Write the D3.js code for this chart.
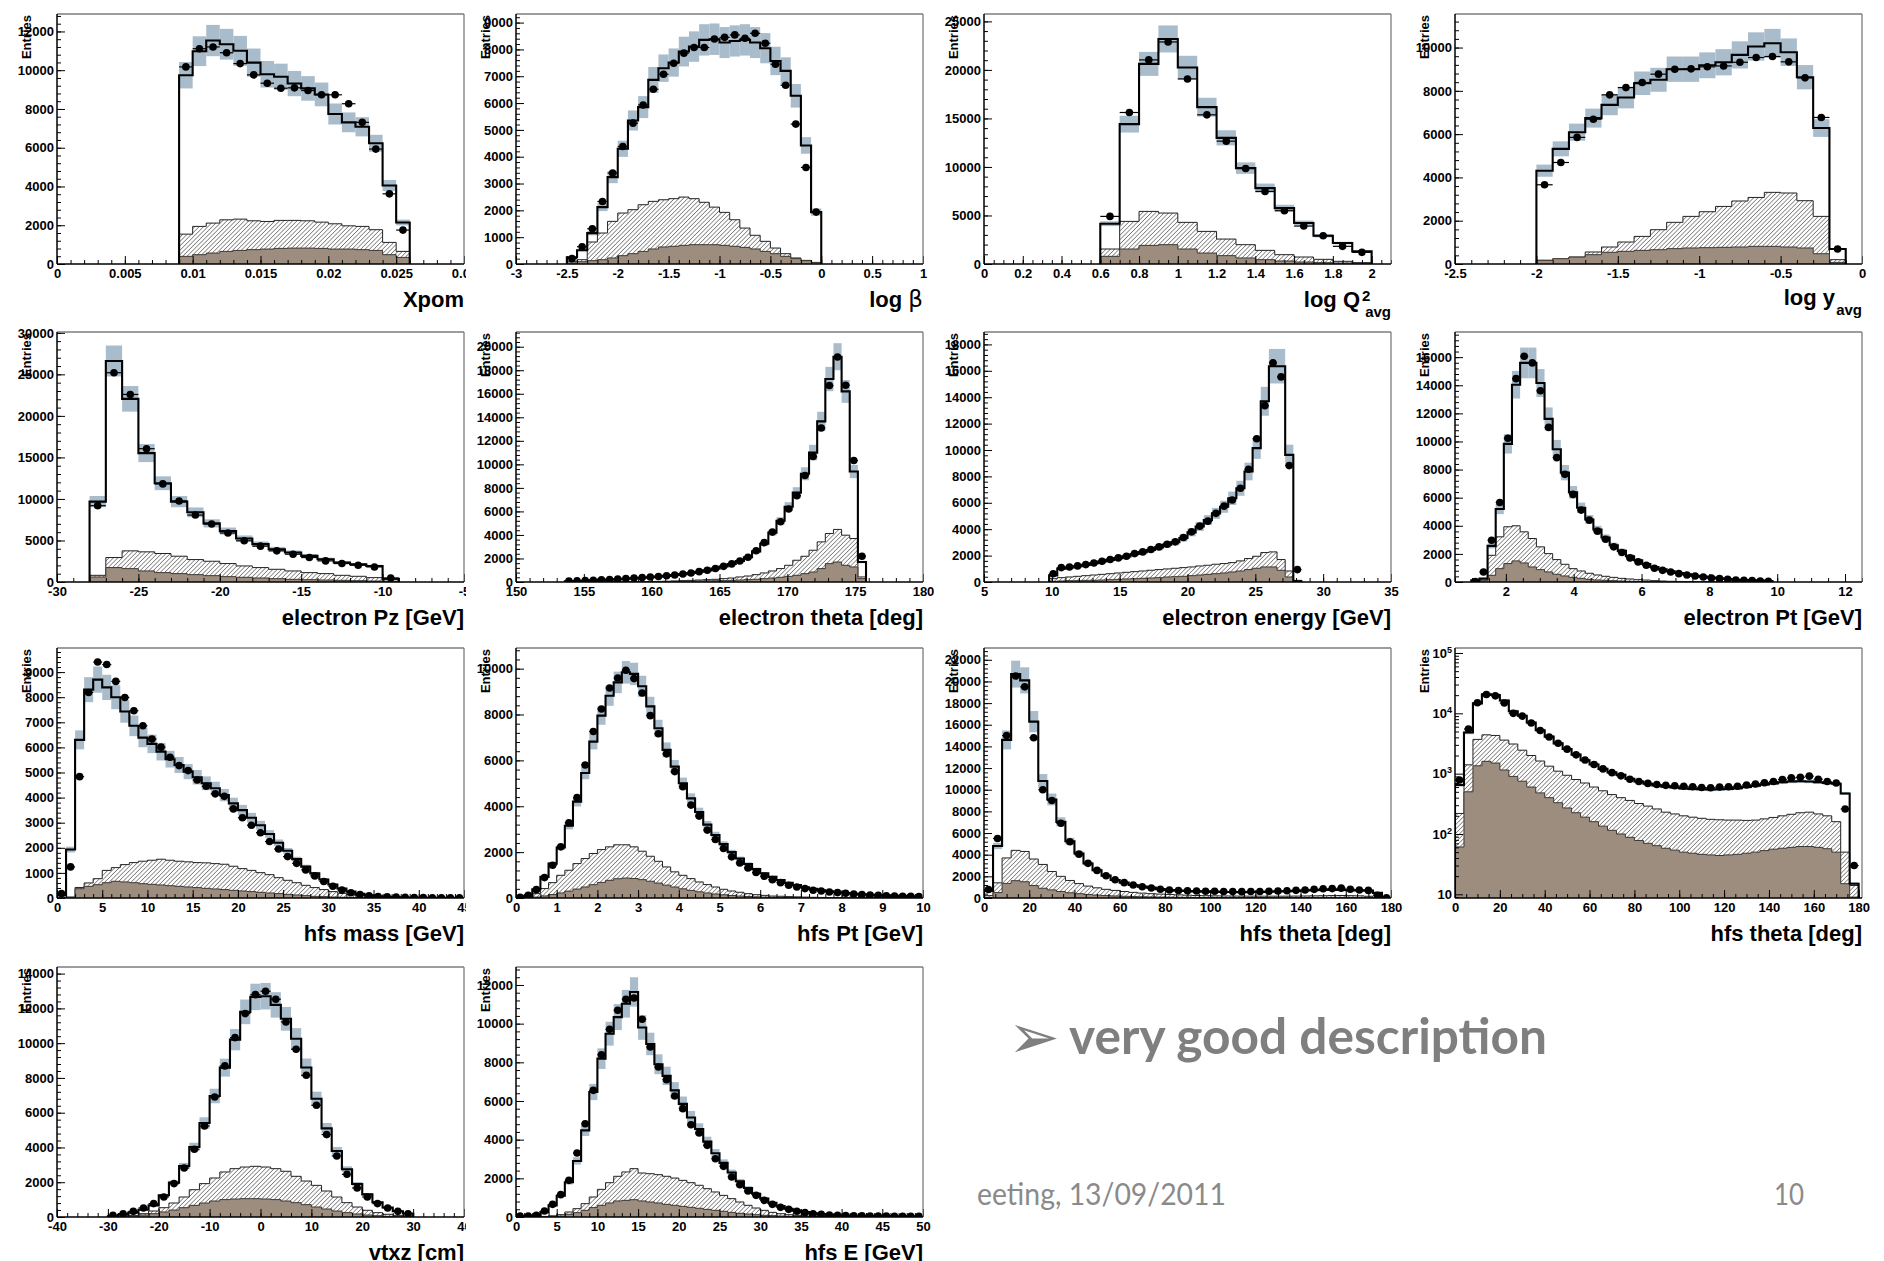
<!DOCTYPE html>
<html><head><meta charset="utf-8">
<script src="https://cdn.jsdelivr.net/npm/d3@7"></script>
<style>html,body{margin:0;padding:0;background:#fff;}svg{display:block;}</style>
</head><body>
<svg id="c" width="1884" height="1261"></svg>
<script>
// ================= DATA =================
// 1. Xpom  (bins 0.009..0.026, width 0.001)
const xpomMC    = [9740,10980,11530,11340,11000,10390,9790,9660,9310,9060,8750,7740,7310,7080,6230,4050,2140];
const xpomData  = [10170,11110,11200,10900,10340,9760,9330,9070,9090,8950,8730,8730,8270,7310,5930,3620,1750];
const xpomHatch = [1540,1940,2110,2280,2315,2230,2195,2250,2250,2230,2160,2075,1970,1940,1770,1115,650];
const xpomBrown = [395,480,565,650,700,740,770,805,820,820,805,770,770,740,700,480,340];
// 2. log beta (bins -2.5..0, width 0.1)
const lbMC    = [250,510,1150,2120,3240,4295,5350,5850,6865,7300,7510,7920,8105,8355,8380,8255,8315,8355,8255,8045,7570,7200,6270,4420,1935];
const lbData  = [200,645,1315,2330,3390,4380,5250,5930,6515,7075,7485,7860,8070,8070,8390,8450,8540,8415,8600,8230,7450,6665,5215,3600,1935];
const lbHatch = [100,160,820,1155,1590,1900,2025,2210,2335,2395,2435,2495,2435,2300,2120,1925,1650,1340,1070,845,595,385,225,135,40];
const lbBrown = [40,85,125,160,225,310,385,470,560,635,660,695,720,720,720,695,660,620,560,470,385,285,200,125,60];
// 3. log Q2 (bins 0.6..2.0, width 0.1)
const lqMC    = [4150,14410,20620,23190,20240,16160,13000,9880,7820,5760,4220,2915,2160,1300];
const lqData  = [4905,15610,21030,22880,19070,15370,12660,9845,7480,5490,3910,2915,1820,1200];
const lqHatch = [1545,4390,5420,5250,4290,3360,2570,1990,1405,960,720,480,275,140];
const lqBrown = [790,1545,1920,1990,1545,1130,860,620,445,310,205,140,100,70];
// 4. log y (bins -2.0..-0.1, width 0.1)
const lyMC    = [4310,5320,6090,6740,7350,7690,8350,8510,9000,9000,9180,9320,9660,10050,10200,9785,8630,6280,690];
const lyData  = [3660,4690,5850,6690,7815,8150,8385,8770,9000,9015,9110,9150,9320,9540,9585,9340,8600,6770,690];
const lyHatch = [170,230,320,555,785,1015,1275,1585,1925,2200,2415,2660,2910,3075,3310,3280,2925,2200,200];
const lyBrown = [170,245,320,430,540,585,630,660,710,740,755,770,785,815,815,785,740,475,75];
// 5. electron Pz (bins -28..-9, width 1)
const epzMC    = [9680,26610,22050,15520,11890,9680,8390,7060,6130,5240,4560,3950,3550,3150,2740,2340,2140,1935,400];
const epzData  = [9190,25200,22580,16050,11810,9760,8060,6975,5900,4960,4315,3750,3345,2945,2540,2220,2015,1815,480];
const epzHatch = [805,2945,3750,3630,3430,3105,2700,2500,2220,1935,1735,1530,1330,1130,1010,805,685,525,280];
const epzBrown = [605,1735,1610,1330,1130,1010,885,765,645,565,485,400,320,280,240,200,160,120,80];
// 6. electron theta (bins 153.6..175.8, width 0.6)
const ethMC    = [60,85,110,140,170,205,240,280,320,365,410,460,520,590,670,760,870,990,1140,1320,1530,1780,2100,2600,3250,4200,5200,6400,7600,9200,11000,13650,17250,19150,16200,9390,1700];
const ethData  = [75,95,120,150,180,215,250,290,330,375,420,470,530,600,680,770,880,1000,1150,1330,1540,1780,2100,2650,3350,4240,5120,6200,7340,9050,10670,13090,16700,19120,16730,10330,2190];
const ethHatch = [5,8,10,12,15,18,22,26,30,36,42,50,60,85,115,140,170,200,230,285,340,430,510,625,770,940,1140,1420,1850,2190,2700,3410,4125,4470,3980,3700,430];
const ethBrown = [6,8,10,12,15,18,20,25,30,35,40,45,50,60,70,80,90,100,110,115,140,170,200,230,285,340,400,480,570,710,850,1140,1560,1700,1420,1280,285];
// 7. electron energy (bins 9.8..28.4, width 0.6)
const eeMC    = [500,1010,1100,1190,1300,1420,1550,1680,1810,1940,2120,2260,2430,2620,2830,3020,3330,3760,4200,4690,5200,5700,6340,7100,8370,10140,13690,16350,16350,9630,60];
const eeData  = [630,1090,1140,1220,1320,1445,1570,1700,1825,1950,2150,2280,2460,2660,2865,3040,3370,3800,4230,4610,5200,5750,6210,7100,8540,10850,13360,16600,15540,8820,940];
const eeHatch = [250,330,380,430,480,530,580,630,685,735,785,835,890,940,990,1040,1090,1140,1215,1270,1345,1395,1470,1600,1775,1950,2230,2280,1700,835,125];
const eeBrown = [50,75,100,100,125,125,150,175,200,230,250,280,305,330,380,405,430,480,530,580,630,685,760,835,940,1040,1140,1140,890,380,50];
// 8. electron Pt (bins 0.98..9.86, width 0.24)
const eptMC    = [120,240,2570,5190,9830,14040,15590,15590,14160,11610,9450,7780,6380,5280,4450,3740,3165,2620,2215,1830,1545,1285,1070,905,760,640,550,450,380,310,260,215,165,140,120,95,70];
const eptData  = [30,710,2975,5660,10230,14470,16060,15590,13610,11000,8850,7660,6235,5115,4400,3620,3045,2500,2095,1715,1430,1190,975,830,710,595,500,430,360,285,240,190,145,120,95,70,50];
const eptHatch = [0,240,1900,3215,3930,4000,3570,3095,2500,2020,1595,1260,950,785,620,500,405,330,260,215,165,140,95,70,50,40,30,25,20,15,12,10,8,6,5,4,3];
const eptBrown = [0,95,475,950,1310,1500,1355,1070,880,715,550,430,330,260,190,145,120,95,70,50,40,30,25,20,15,12,10,8,6,5,4,3,3,2,2,1,1];
// 9. hfs mass (bins 0..45, width 1)
const hmMC    = [100,1930,6300,8300,8700,8390,8000,7430,6860,6390,6140,5830,5530,5300,5035,4810,4570,4370,4100,3770,3500,3200,2900,2550,2200,1880,1550,1250,980,740,540,380,260,170,110,70,45,30,20,15,10,8,5,4,3];
const hmData  = [175,1240,4835,8190,9400,9300,8630,7990,7460,6860,6330,6010,5610,5275,5075,4700,4450,4150,4050,3550,3200,2900,2600,2250,1950,1650,1380,1120,880,660,470,320,210,140,90,60,45,35,25,20,15,12,10,8,6];
const hmHatch = [0,40,420,600,770,1100,1210,1330,1410,1465,1505,1545,1505,1465,1440,1410,1400,1370,1345,1265,1170,1100,1010,930,810,705,610,505,415,335,255,185,135,95,65,40,25,15,10,5,5,3,2,1,1];
const hmBrown = [0,15,370,465,530,610,665,640,610,570,545,520,490,465,440,415,385,360,335,305,280,255,225,200,175,145,120,95,65,55,40,30,20,15,10,8,5,3,2,1,1,1,0,0,0];
// 10. hfs Pt (bins 0..10, width 0.2)
const hptMC    = [20,100,380,920,1500,2200,3150,4200,5450,6820,7950,8820,9400,9840,9770,9230,8355,7400,6460,5730,5000,4345,3750,3200,2750,2350,2000,1720,1480,1260,1080,920,780,660,560,470,400,340,290,250,215,185,160,140,120,105,90,80,70,60];
const hptData  = [30,115,365,890,1430,2230,3280,4375,5800,7260,8240,9155,9590,9930,9565,8940,7950,7160,6285,5510,4855,4050,3570,2960,2550,2160,1795,1530,1310,1110,950,800,670,555,480,410,335,305,260,235,205,175,145,130,115,100,90,75,70,60];
const hptHatch = [0,40,190,410,670,990,1210,1500,1720,1940,2110,2230,2320,2320,2230,2040,1820,1600,1355,1140,990,845,700,585,480,380,305,250,190,145,115,85,75,60,50,40,30,25,20,15,12,10,8,6,5,4,3,2,2,1];
const hptBrown = [0,10,40,90,150,220,300,390,480,580,680,770,840,870,850,800,730,650,560,480,400,330,270,220,175,140,110,85,65,50,40,30,25,20,15,12,10,8,6,5,4,3,3,2,2,2,1,1,1,1];
// 11/12. hfs theta (bins 0..180, width 4) - shown linear and log
const htMC    = [650,4800,14600,20680,20100,16290,10800,9100,7035,5245,4105,3180,2560,2070,1665,1420,1200,1050,955,820,740,680,640,610,590,570,560,550,545,550,560,575,600,630,660,690,720,740,750,740,720,700,680,470,15];
const htData  = [785,5500,15000,20500,19500,14800,10000,9000,6900,5200,4050,3200,2550,2050,1680,1420,1200,1040,920,810,740,690,660,640,630,620,605,590,585,600,605,620,650,675,705,740,800,850,870,910,810,740,700,260,30];
const htHatch = [219,1400,3700,4400,4300,3600,3100,2450,2000,1620,1330,1100,940,800,700,600,520,450,400,360,320,290,260,230,215,200,190,182,175,172,170,170,168,170,178,188,200,212,225,230,215,200,160,50,14];
const htBrown = [61,500,1350,1600,1500,1150,900,750,600,480,400,330,270,225,190,160,135,115,100,88,78,70,64,58,54,50,48,46,45,44,45,46,48,50,53,56,58,60,62,62,60,57,50,15,9];
// 13. vtxz (bins -30..30, width 2)
const vzMC    = [40,130,250,420,670,1250,1975,2935,4030,5410,6960,8590,10200,11800,12660,12700,12200,11400,10250,8600,6800,5100,3800,2750,1900,1300,850,550,330,200];
const vzData  = [100,190,325,520,770,1150,1920,2820,3895,5235,6905,8690,10320,11700,12790,12985,12525,11220,9650,8150,6425,4740,3510,2455,1670,1150,770,520,325,190];
const vzHatch = [0,40,95,190,345,535,805,1150,1570,1920,2245,2590,2780,2875,2915,2875,2780,2630,2340,2070,1820,1495,1150,825,575,385,250,155,95,60];
const vzBrown = [0,20,60,115,190,290,400,535,670,805,920,1000,1035,1055,1055,1035,1000,920,825,710,575,460,345,250,175,115,75,40,20,15];
// 14. hfs E (bins 0..50, width 1)
const heMC    = [10,30,80,250,600,1100,1800,2900,4480,6465,8190,9480,10340,11030,11640,9800,8950,7900,7300,6550,5850,5150,4550,3900,3300,2800,2300,1850,1500,1200,950,730,560,430,330,250,190,150,115,90,75,65,58,52,47,43,40,37,34,32];
const heData  = [50,50,85,310,655,1155,1895,3310,4825,6550,8395,9705,10690,11260,11325,10225,8790,7760,7105,6260,5605,4775,4345,3705,3015,2620,2070,1670,1345,1120,860,655,500,395,295,225,170,140,105,85,70,65,60,55,50,45,40,40,35,35];
const heHatch = [0,0,10,30,60,120,260,430,690,1035,1430,1775,2105,2330,2500,2275,2240,2190,2105,2015,1895,1775,1640,1465,1295,1120,950,775,605,465,345,240,170,120,85,50,35,25,20,15,10,8,6,5,4,3,2,2,1,1];
const heBrown = [0,0,5,15,30,50,140,225,345,485,605,725,830,860,895,830,775,725,655,605,550,500,450,395,345,295,240,190,155,120,85,70,50,35,25,20,15,10,8,6,5,4,3,2,2,1,1,1,0,0];

// relative width of the systematic band per panel
const sysBand = [0.07,0.07,0.06,0.065,0.07,0.06,0.08,0.07,0.06,0.05,0.06,0.06,0.06,0.065];

// ================= PANELS =================
const panels = [
 {col:0,row:0,xd:[0,0.03],xs:0.005,xsub:5,yd:[0,12900],ys:2000,ysub:5,b0:0.009,bw:0.001,mc:xpomMC,data:xpomData,hatch:xpomHatch,brown:xpomBrown,title:{main:"Xpom"}},
 {col:1,row:0,xd:[-3,1],xs:0.5,xsub:5,yd:[0,9320],ys:1000,ysub:5,b0:-2.5,bw:0.1,mc:lbMC,data:lbData,hatch:lbHatch,brown:lbBrown,title:{main:"log ",greek:"β"}},
 {col:2,row:0,xd:[0,2.1],xs:0.2,xsub:4,yd:[0,25760],ys:5000,ysub:5,b0:0.6,bw:0.1,mc:lqMC,data:lqData,hatch:lqHatch,brown:lqBrown,title:{main:"log Q",sup:"2",sub:"avg"}},
 {col:3,row:0,xd:[-2.5,0],xs:0.5,xsub:5,yd:[0,11550],ys:2000,ysub:5,b0:-2.0,bw:0.1,mc:lyMC,data:lyData,hatch:lyHatch,brown:lyBrown,title:{main:"log y",sub:"avg"}},
 {col:0,row:1,xd:[-30,-5],xs:5,xsub:5,yd:[0,30100],ys:5000,ysub:5,b0:-28,bw:1,mc:epzMC,data:epzData,hatch:epzHatch,brown:epzBrown,title:{main:"electron Pz [GeV]"}},
 {col:1,row:1,xd:[150,180],xs:5,xsub:5,yd:[0,21250],ys:2000,ysub:5,b0:153.6,bw:0.6,mc:ethMC,data:ethData,hatch:ethHatch,brown:ethBrown,title:{main:"electron theta [deg]"}},
 {col:2,row:1,xd:[5,35],xs:5,xsub:5,yd:[0,18940],ys:2000,ysub:5,b0:9.8,bw:0.6,mc:eeMC,data:eeData,hatch:eeHatch,brown:eeBrown,title:{main:"electron energy [GeV]"}},
 {col:3,row:1,xd:[0.5,12.5],xs:2,xsub:4,yd:[0,17790],ys:2000,ysub:5,b0:0.98,bw:0.24,mc:eptMC,data:eptData,hatch:eptHatch,brown:eptBrown,title:{main:"electron Pt [GeV]"}},
 {col:0,row:2,xd:[0,45],xs:5,xsub:5,yd:[0,9960],ys:1000,ysub:5,b0:0,bw:1,mc:hmMC,data:hmData,hatch:hmHatch,brown:hmBrown,title:{main:"hfs mass [GeV]"}},
 {col:1,row:2,xd:[0,10],xs:1,xsub:5,yd:[0,10900],ys:2000,ysub:5,b0:0,bw:0.2,mc:hptMC,data:hptData,hatch:hptHatch,brown:hptBrown,title:{main:"hfs Pt [GeV]"}},
 {col:2,row:2,xd:[0,180],xs:20,xsub:4,yd:[0,23090],ys:2000,ysub:5,b0:0,bw:4,mc:htMC,data:htData,hatch:htHatch,brown:htBrown,title:{main:"hfs theta [deg]"}},
 {col:3,row:2,xd:[0,181.5],xs:20,xsub:4,yd:[8.69,121000],log:true,b0:0,bw:4,mc:htMC,data:htData,hatch:htHatch,brown:htBrown,title:{main:"hfs theta [deg]"}},
 {col:0,row:3,xd:[-40,40],xs:10,xsub:5,yd:[0,14380],ys:2000,ysub:5,b0:-30,bw:2,mc:vzMC,data:vzData,hatch:vzHatch,brown:vzBrown,title:{main:"vtxz [cm]"}},
 {col:1,row:3,xd:[0,50],xs:5,xsub:5,yd:[0,12930],ys:2000,ysub:5,b0:0,bw:1,mc:heMC,data:heData,hatch:heHatch,brown:heBrown,title:{main:"hfs E [GeV]"}}
];

// ================= LAYOUT =================
const COLX = [57, 516, 984, 1455], ROWY = [14, 332, 648, 967], PW = 407, PH = 250;
const FONT = "'Liberation Sans', Arial, Helvetica, sans-serif";
const svg = d3.select("#c");
const defs = svg.append("defs");
defs.append("pattern").attr("id","hatch").attr("patternUnits","userSpaceOnUse")
  .attr("width",3.1).attr("height",3.1).attr("patternTransform","rotate(45)")
  .append("line").attr("x1",0).attr("y1",0).attr("x2",0).attr("y2",3.1)
  .attr("stroke","#222").attr("stroke-width",0.95);

function makeTicks(dom, step){
  const a = Math.ceil(dom[0]/step - 1e-9), b = Math.floor(dom[1]/step + 1e-9);
  return d3.range(a, b+1).map(k => +(k*step).toFixed(10));
}
const fmt = v => String(+(+v).toFixed(8));

panels.forEach((p, idx) => {
  const L = COLX[p.col], T = ROWY[p.row], R = L + PW, B = T + PH;
  const g = svg.append("g");
  const x = d3.scaleLinear().domain(p.xd).range([L, R]);
  const y = p.log ? d3.scaleLog().domain(p.yd).range([B, T]).clamp(true)
                  : d3.scaleLinear().domain(p.yd).range([B, T]);
  const Y = v => (p.log && v <= 0) ? B : y(v);
  const sys = sysBand[idx];

  const clipId = "clip" + idx;
  defs.append("clipPath").attr("id", clipId).append("rect")
    .attr("x", L).attr("y", T).attr("width", PW).attr("height", PH);
  const m = g.append("g").attr("clip-path", `url(#${clipId})`);

  const n = p.mc.length;
  const edges = d3.range(n + 1).map(i => p.b0 + i * p.bw);
  const bins = p.mc.map((v, i) => ({i, x0: edges[i], x1: edges[i+1], mc: v, data: p.data[i]}));

  // systematic band
  m.selectAll("rect.band").data(bins.filter(d => d.mc > 0)).join("rect")
    .attr("x", d => x(d.x0)).attr("width", d => x(d.x1) - x(d.x0))
    .attr("y", d => Y(d.mc * (1 + sys)))
    .attr("height", d => Math.max(0, Y(d.mc * (1 - sys)) - Y(d.mc * (1 + sys))))
    .attr("fill", "#a9bccb");

  const steps = arr => { const pts = []; arr.forEach((v, i) => { pts.push([edges[i], v]); pts.push([edges[i+1], v]); }); return pts; };
  const area = d3.area().x(d => x(d[0])).y0(B).y1(d => Y(d[1]));
  const line = d3.line().x(d => x(d[0])).y(d => Y(d[1]));
  const outline = arr => line([[edges[0], 0], ...steps(arr), [edges[n], 0]]);

  m.append("path").attr("d", area(steps(p.hatch))).attr("fill", "url(#hatch)");
  m.append("path").attr("d", outline(p.hatch)).attr("fill", "none").attr("stroke", "#222").attr("stroke-width", 1);
  m.append("path").attr("d", area(steps(p.brown))).attr("fill", "#9d8d7f");
  m.append("path").attr("d", outline(p.brown)).attr("fill", "none").attr("stroke", "#3e3833").attr("stroke-width", 1);
  m.append("path").attr("d", outline(p.mc)).attr("fill", "none").attr("stroke", "#000").attr("stroke-width", 2.1);

  // data points with horizontal bin-width bars
  const pts = bins.filter(d => d.data > 0);
  m.selectAll("line.eb").data(pts).join("line")
    .attr("x1", d => x(d.x0)).attr("x2", d => x(d.x1))
    .attr("y1", d => Y(d.data)).attr("y2", d => Y(d.data))
    .attr("stroke", "#000").attr("stroke-width", 1.2);
  m.selectAll("circle").data(pts).join("circle")
    .attr("cx", d => x((d.x0 + d.x1) / 2)).attr("cy", d => Y(d.data))
    .attr("r", 3.8).attr("fill", "#000");

  // axes
  const styleAxis = s => { s.select(".domain").remove();
    s.attr("font-family", FONT).attr("font-size", 13).attr("font-weight", "bold");
    s.selectAll("text").attr("fill", "#000"); s.selectAll("line").attr("stroke", "#000"); };

  const xMaj = makeTicks(p.xd, p.xs);
  const xMin = makeTicks(p.xd, p.xs / p.xsub);
  const axClip = "axclip" + idx;
  // clip rect lives in the translated (0,B) coordinate system of the axis group
  defs.append("clipPath").attr("id", axClip).append("rect")
    .attr("x", L - 60).attr("y", -20)
    .attr("width", p.col === 0 ? (466 - (L - 60)) : PW + 120).attr("height", 50);
  g.append("g").attr("transform", `translate(0,${B})`)
    .call(d3.axisBottom(x).tickValues(xMin).tickSize(-4).tickFormat("")).call(styleAxis);
  g.append("g").attr("transform", `translate(0,${B})`).attr("clip-path", `url(#${axClip})`)
    .call(d3.axisBottom(x).tickValues(xMaj).tickSize(-8).tickPadding(4.5).tickFormat(fmt)).call(styleAxis);

  if (p.log) {
    const yMaj = [10, 100, 1000, 10000, 100000];
    const yMin = [];
    for (let k = 0; k <= 5; k++) for (let q = 2; q <= 9; q++) { const v = q * Math.pow(10, k); if (v >= p.yd[0] && v <= p.yd[1]) yMin.push(v); }
    g.append("g").attr("transform", `translate(${L},0)`)
      .call(d3.axisLeft(y).tickValues(yMin).tickSize(-4).tickFormat("")).call(styleAxis);
    const ya = g.append("g").attr("transform", `translate(${L},0)`)
      .call(d3.axisLeft(y).tickValues(yMaj).tickSize(-8).tickPadding(3).tickFormat(() => "10")).call(styleAxis);
    ya.selectAll(".tick text").each(function(d) {
      const e = Math.round(Math.log10(d));
      if (e > 1) d3.select(this).append("tspan").attr("dy", "-0.55em").attr("font-size", 9).text(e);
    });
  } else {
    const yMaj = makeTicks(p.yd, p.ys);
    const yMin = makeTicks(p.yd, p.ys / p.ysub);
    g.append("g").attr("transform", `translate(${L},0)`)
      .call(d3.axisLeft(y).tickValues(yMin).tickSize(-4).tickFormat("")).call(styleAxis);
    g.append("g").attr("transform", `translate(${L},0)`)
      .call(d3.axisLeft(y).tickValues(yMaj).tickSize(-8).tickPadding(3).tickFormat(fmt)).call(styleAxis);
  }

  // frame
  g.append("line").attr("x1", L).attr("y1", T).attr("x2", R).attr("y2", T).attr("stroke", "#7c7c7c").attr("stroke-width", 1.3);
  g.append("line").attr("x1", R).attr("y1", T).attr("x2", R).attr("y2", B).attr("stroke", "#7c7c7c").attr("stroke-width", 1.3);
  g.append("line").attr("x1", L).attr("y1", T).attr("x2", L).attr("y2", B).attr("stroke", "#000").attr("stroke-width", 1.5);
  g.append("line").attr("x1", L).attr("y1", B).attr("x2", R).attr("y2", B).attr("stroke", "#000").attr("stroke-width", 1.5);

  // "Entries" label
  g.append("text").attr("transform", `translate(${L - 26},${T + 1}) rotate(-90)`)
    .attr("text-anchor", "end").attr("font-family", FONT).attr("font-weight", "bold")
    .attr("font-size", 13).attr("fill", "#000").text("Entries");

  // x-axis title
  const tt = p.title;
  const t = g.append("text").attr("text-anchor", "end").attr("font-family", FONT)
    .attr("font-weight", "bold").attr("font-size", 22).attr("fill", "#000");
  if (tt.sup) {
    t.attr("x", R - 31).attr("y", B + 43).text(tt.main);
    g.append("text").attr("x", R - 29).attr("y", B + 36.5).attr("font-family", FONT).attr("font-weight", "bold").attr("font-size", 15).text(tt.sup);
    g.append("text").attr("x", R).attr("y", B + 52.5).attr("text-anchor", "end").attr("font-family", FONT).attr("font-weight", "bold").attr("font-size", 15).text(tt.sub);
  } else if (tt.sub) {
    t.attr("x", R - 27).attr("y", B + 41).text(tt.main);
    g.append("text").attr("x", R).attr("y", B + 51).attr("text-anchor", "end").attr("font-family", FONT).attr("font-weight", "bold").attr("font-size", 15).text(tt.sub);
  } else if (tt.greek) {
    t.attr("x", R).attr("y", B + 43).text(tt.main);
    t.append("tspan").attr("font-weight", "normal").attr("font-family", "'DejaVu Sans', sans-serif").attr("font-size", 23).text(tt.greek);
  } else {
    t.attr("x", R).attr("y", B + 43).text(tt.main);
  }
});

// ================= slide text =================
svg.append("text").attr("x", 1008).attr("y", 1058).attr("font-family", "'DejaVu Sans', sans-serif")
  .attr("font-size", 62).attr("fill", "#7f7f7f").text("➢");
svg.append("text").attr("x", 1069).attr("y", 1054).attr("font-family", "Lato, 'Open Sans', sans-serif")
  .attr("font-weight", "bold").attr("font-size", 49).attr("fill", "#7f7f7f")
  .attr("textLength", 478).attr("lengthAdjust", "spacingAndGlyphs").text("very good description");
svg.append("text").attr("x", 977).attr("y", 1205).attr("font-family", "Lato, 'Open Sans', sans-serif")
  .attr("font-size", 31).attr("fill", "#8a8a8a")
  .attr("textLength", 249).attr("lengthAdjust", "spacingAndGlyphs").text("eeting, 13/09/2011");
svg.append("text").attr("x", 1774).attr("y", 1205).attr("font-family", "Lato, 'Open Sans', sans-serif")
  .attr("font-size", 31).attr("fill", "#8a8a8a")
  .attr("textLength", 30).attr("lengthAdjust", "spacingAndGlyphs").text("10");
</script>
</body></html>
